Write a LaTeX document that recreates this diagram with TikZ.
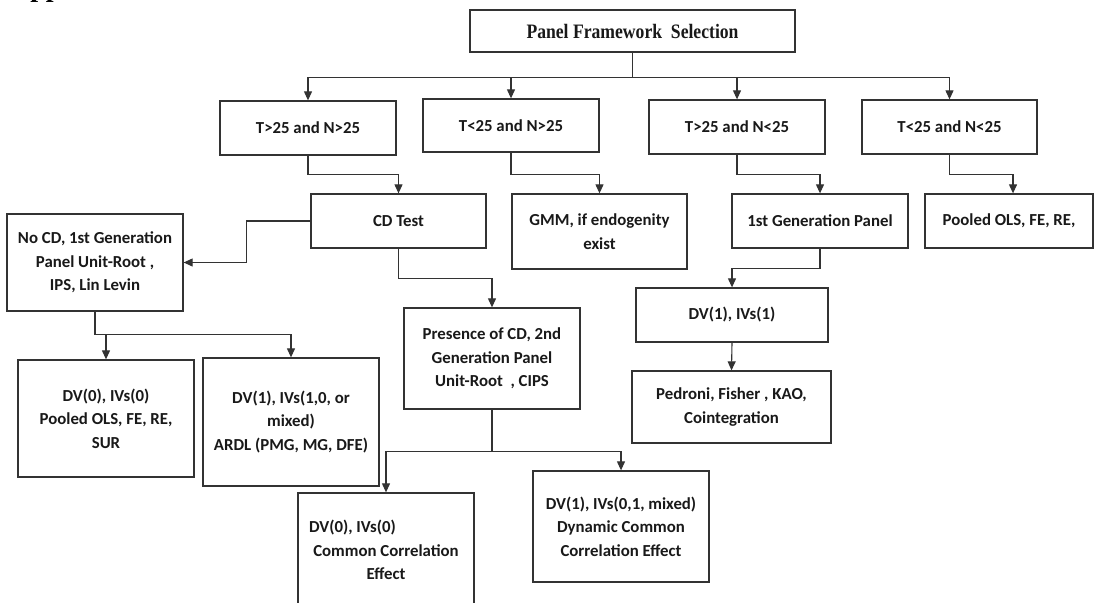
\documentclass[tikz,border=0pt]{standalone}
\usepackage{fontspec}
\setmainfont{Carlito}
\newfontfamily\titlefont{Liberation Serif}
\usetikzlibrary{arrows.meta}
\tikzset{
  box/.style={draw=black!80, line width=1.3pt, fill=white, align=center, inner sep=2pt,
    font=\bfseries\fontsize{16.8}{23.5}\selectfont, text=black!90},
  conn/.style={draw=black!80, line width=1.1pt},
  arr/.style={conn, -{Triangle[length=9pt,width=8pt]}},
  plaintext/.style={align=center, inner sep=0pt, font=\bfseries\fontsize{16.8}{23.5}\selectfont, text=black!90},
}
\begin{document}
\begin{tikzpicture}[x=1pt,y=-1pt]
\useasboundingbox (0,0) rectangle (1094,602);
\fill[white] (0,0) rectangle (1094,602);

% partial heading at the top edge
\node[anchor=base west, font=\titlefont\bfseries\fontsize{28}{30}\selectfont, inner sep=0pt] (hd) at (10,-3) {Appendix};

% nodes
\node[box, font=\titlefont\bfseries\fontsize{20.5}{24}\selectfont, minimum width=325pt, minimum height=42pt] (P) at (632.5,31) {\scalebox{0.86}[1]{Panel Framework\ \ Selection}};

\node[box, minimum width=176pt, minimum height=54pt] (B1) at (308,128) {T>25 and N>25};
\node[box, minimum width=176pt, minimum height=53pt] (B2) at (511,125.5) {T<25 and N>25};
\node[box, minimum width=176pt, minimum height=54pt] (B3) at (737,127) {T>25 and N<25};
\node[box, minimum width=175pt, minimum height=54pt] (B4) at (949.5,127) {T<25 and N<25};

\node[box, minimum width=175pt, minimum height=54pt] (CD) at (398.5,221) {CD Test};
\node[box, minimum width=175pt, minimum height=75pt] (GMM) at (599.5,231.5) {GMM, if endogenity\\exist};
\node[box, minimum width=176pt, minimum height=54pt] (G1) at (820,221) {1st Generation Panel};
\node[box, minimum width=168pt, minimum height=54pt] (POLS) at (1009,221) {Pooled OLS, FE, RE,};

\node[box, minimum width=176pt, minimum height=97pt] (NOCD) at (95,262.5) {No CD, 1st Generation\\Panel Unit-Root ,\\IPS, Lin Levin};
\node[box, minimum width=176pt, minimum height=117pt] (DV0) at (106,418.5) {DV(0), IVs(0)\\Pooled OLS, FE, RE,\\SUR};
\node[box, minimum width=176pt, minimum height=128pt] (ARDL) at (291,422) {DV(1), IVs(1,0, or\\mixed)\\ARDL (PMG, MG, DFE)};
\node[box, minimum width=176pt, minimum height=101pt] (PRES) at (492,358.5) {Presence of CD, 2nd\\Generation Panel\\Unit-Root\ \ , CIPS};

\node[box, minimum width=176pt, minimum height=132pt] (CCE) at (386,559) {};
\node[plaintext] (CCEtext) at (386,550) {\makebox[154pt][l]{DV(0), IVs(0)}\\Common Correlation\\Effect};
\node[box, minimum width=176pt, minimum height=111pt] (DCCE) at (621,526.5) {DV(1), IVs(0,1, mixed)\\Dynamic Common\\Correlation Effect};

\node[box, minimum width=192pt, minimum height=54pt] (DV1) at (732,315) {DV(1), IVs(1)};
\node[box, minimum width=199pt, minimum height=72pt] (PED) at (731.5,407) {Pedroni, Fisher , KAO,\\Cointegration};

% connectors
\draw[conn] (P.south) -- ++(0,25) coordinate (j1);
\draw[arr] (j1) -| (B1.north);
\draw[arr] (j1) -| (B2.north);
\draw[arr] (j1) -| (B3.north);
\draw[arr] (j1) -| (B4.north);

\draw[arr] (B1.south) -- ++(0,19) -| (CD.north);
\draw[arr] (B2.south) -- ++(0,22) -| (GMM.north);
\draw[arr] (B3.south) -- ++(0,20) -| (G1.north);
\draw[arr] (B4.south) -- ++(0,20) -| ([xshift=4pt]POLS.north);

\draw[arr] (CD.west) -- ++(-64,0) |- (NOCD.east);
\draw[arr] (CD.south) -- ++(0,30) -| (PRES.north);

\draw[conn] (NOCD.south) -- ++(0,23) coordinate (j2);
\draw[arr] (j2) -| (DV0.north);
\draw[arr] (j2) -| (ARDL.north);

\draw[conn] (PRES.south) -- ++(0,42) coordinate (j3);
\draw[arr] (j3) -| (CCE.north);
\draw[arr] (j3) -| (DCCE.north);

\draw[arr] (G1.south) -- ++(0,20) -| (DV1.north);
\draw[arr] (DV1.south) -- (PED.north);
\end{tikzpicture}
\end{document}
